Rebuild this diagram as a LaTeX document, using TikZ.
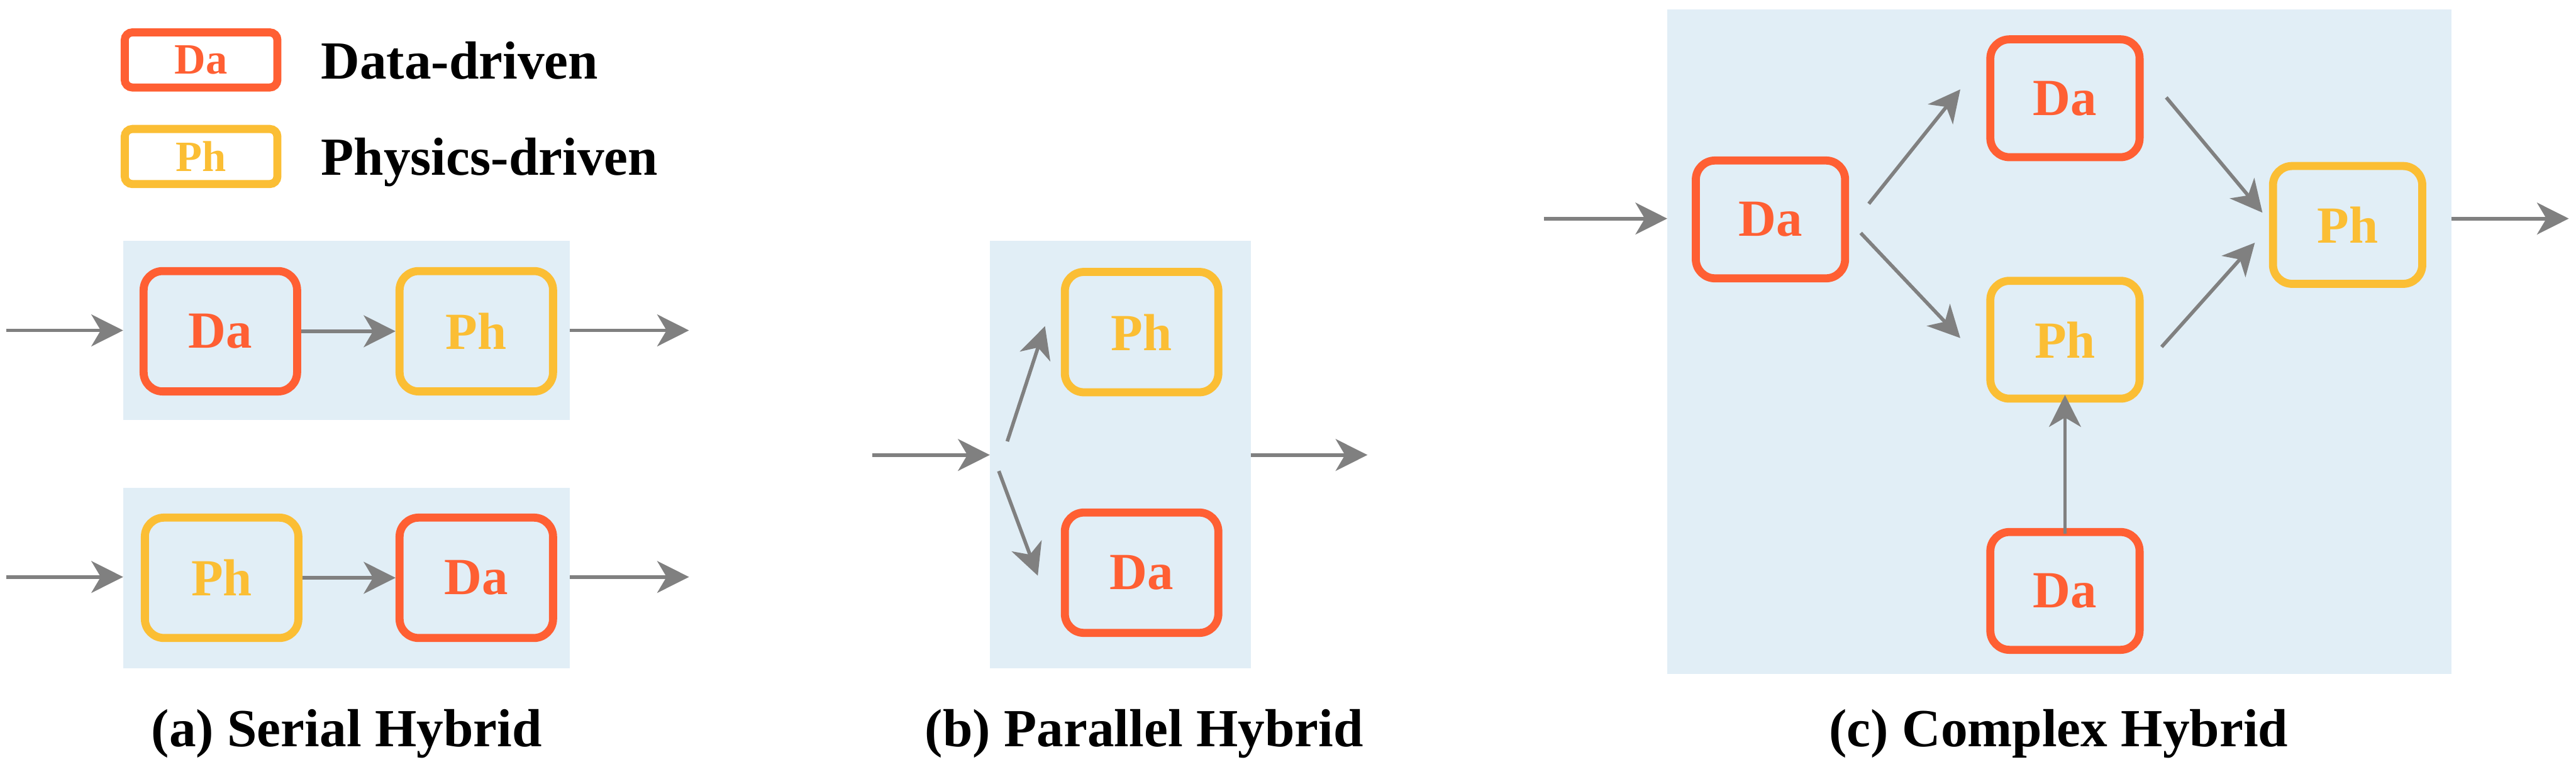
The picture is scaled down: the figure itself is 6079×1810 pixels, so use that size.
\documentclass[tikz,border=0pt]{standalone}
\usepackage{fontspec}
\setmainfont{Liberation Serif}
\usetikzlibrary{arrows.meta}
\definecolor{daC}{HTML}{FF5F33}
\definecolor{phC}{HTML}{FBBE34}
\definecolor{bgC}{HTML}{E1EEF6}
\definecolor{arC}{HTML}{808080}
\tikzset{
 blk/.style={draw, line width=5.4pt, rounded corners=0.45cm, minimum width=3.62cm, minimum height=2.84cm, inner sep=0pt, font=\fontsize{35}{40}\selectfont\bfseries, fill=bgC},
 da/.style={blk, draw=daC, text=daC},
 ph/.style={blk, draw=phC, text=phC},
 cda/.style={da, minimum width=3.52cm, minimum height=2.78cm},
 cph/.style={ph, minimum width=3.52cm, minimum height=2.78cm},
 legbox/.style={draw, line width=5.4pt, rounded corners=0.18cm, minimum width=3.6cm, minimum height=1.3cm, inner sep=0pt, font=\fontsize{29}{34}\selectfont\bfseries, fill=white},
 legtext/.style={font=\fontsize{36}{42}\selectfont\bfseries, anchor=base west, inner sep=0pt},
 flow/.style={draw=arC, line width=2.4pt, -{Stealth[length=0.75cm, width=0.75cm, inset=0.22cm]}},
 panel/.style={fill=bgC, draw=none, inner sep=0pt, outer sep=0pt},
 captext/.style={font=\fontsize{36}{42}\selectfont\bfseries, anchor=base, inner sep=0pt},
}
\begin{document}
\begin{tikzpicture}[x=0.01cm, y=-0.01cm]
\useasboundingbox (0,0) rectangle (6079,1810);

% legend
\node[legbox, draw=daC, text=daC] (lda) at (474.5,141.5) {Da};
\node[legbox, draw=phC, text=phC] (lph) at (474.5,369.5) {Ph};
\node[legtext] (ltda) at (757,187) {Data-driven};
\node[legtext] (ltph) at (757,413) {Physics-driven};

% (a) serial
\node[panel, minimum width=10.54cm, minimum height=4.22cm] (pA) at (818,780) {};
\node[panel, minimum width=10.54cm, minimum height=4.25cm] (pB) at (818,1364.5) {};
\node[da] (a1) at (520,782) {Da};
\node[ph] (a2) at (1124,782) {Ph};
\node[ph] (b1) at (523,1364) {Ph};
\node[da] (b2) at (1124,1364) {Da};
\coordinate (ain) at (15,780);
\coordinate (aout) at (1626,780);
\coordinate (bin) at (15,1362);
\coordinate (bout) at (1626,1362);
\draw[flow] (ain) -- (ain -| pA.west);
\draw[flow] (a1.east) -- (a2.west);
\draw[flow] (aout -| pA.east) -- (aout);
\draw[flow] (bin) -- (bin -| pB.west);
\draw[flow] (b1.east) -- (b2.west);
\draw[flow] (bout -| pB.east) -- (bout);
\node[captext] (capa) at (818,1763) {(a) Serial Hybrid};

% (b) parallel
\node[panel, minimum width=6.15cm, minimum height=10.08cm] (pP) at (2643.5,1073) {};
\node[ph] (p1) at (2694,784) {Ph};
\node[da] (p2) at (2694,1352) {Da};
\coordinate (pin) at (2059,1074);
\coordinate (pout) at (3227,1074);
\coordinate (pu0) at (2377,1042);
\coordinate (pu1) at (2466,770);
\coordinate (pd0) at (2357,1112);
\coordinate (pd1) at (2449,1359);
\draw[flow] (pin) -- (pin -| pP.west);
\draw[flow] (pu0) -- (pu1);
\draw[flow] (pd0) -- (pd1);
\draw[flow] (pout -| pP.east) -- (pout);
\node[captext] (capb) at (2700,1763) {(b) Parallel Hybrid};

% (c) complex
\node[panel, minimum width=18.5cm, minimum height=15.67cm] (pC) at (4860,806.5) {};
\node[cda] (c1) at (4178,518) {Da};
\node[cda] (c2) at (4873,232) {Da};
\node[cph] (c3) at (4873,802) {Ph};
\node[cph] (c4) at (5540,531) {Ph};
\node[cda] (c5) at (4873,1395) {Da};
\coordinate (cin) at (3643,516);
\coordinate (cout) at (6062,516);
\coordinate (e1a) at (4410,481);
\coordinate (e1b) at (4626,211);
\coordinate (e2a) at (4391,550);
\coordinate (e2b) at (4626,798);
\coordinate (e3a) at (5112,230);
\coordinate (e3b) at (5339,502);
\coordinate (e4a) at (5101,819);
\coordinate (e4b) at (5321,573);
\draw[flow] (cin) -- (cin -| pC.west);
\draw[flow] (e1a) -- (e1b);
\draw[flow] (e2a) -- (e2b);
\draw[flow] (e3a) -- (e3b);
\draw[flow] (e4a) -- (e4b);
\draw[flow] ([yshift=-0.13cm]c5.north) -- ([yshift=0.18cm]c3.south);
\draw[flow] (cout -| pC.east) -- (cout);
\node[captext] (capc) at (4858,1763) {(c) Complex Hybrid};
\end{tikzpicture}
\end{document}
